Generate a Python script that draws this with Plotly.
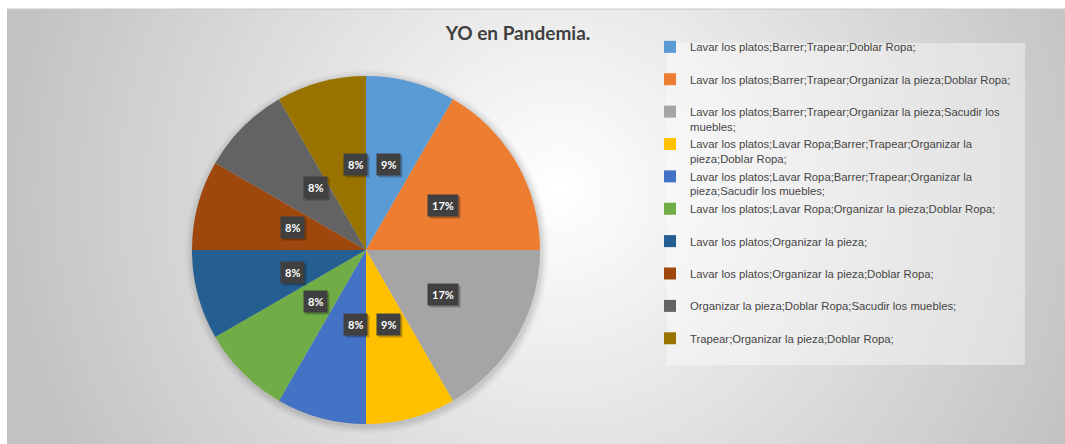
import math
import plotly.graph_objects as go

# ---------------- data ----------------
categories = [
    "Lavar los platos;Barrer;Trapear;Doblar Ropa;",
    "Lavar los platos;Barrer;Trapear;Organizar la pieza;Doblar Ropa;",
    "Lavar los platos;Barrer;Trapear;Organizar la pieza;Sacudir los muebles;",
    "Lavar los platos;Lavar Ropa;Barrer;Trapear;Organizar la pieza;Doblar Ropa;",
    "Lavar los platos;Lavar Ropa;Barrer;Trapear;Organizar la pieza;Sacudir los muebles;",
    "Lavar los platos;Lavar Ropa;Organizar la pieza;Doblar Ropa;",
    "Lavar los platos;Organizar la pieza;",
    "Lavar los platos;Organizar la pieza;Doblar Ropa;",
    "Organizar la pieza;Doblar Ropa;Sacudir los muebles;",
    "Trapear;Organizar la pieza;Doblar Ropa;",
]
# legend text as wrapped in the reference
legend_text = [
    "Lavar los platos;Barrer;Trapear;Doblar Ropa;<br> ",
    "Lavar los platos;Barrer;Trapear;Organizar la pieza;Doblar Ropa;<br> ",
    "Lavar los platos;Barrer;Trapear;Organizar la pieza;Sacudir los<br>muebles;",
    "Lavar los platos;Lavar Ropa;Barrer;Trapear;Organizar la<br>pieza;Doblar Ropa;",
    "Lavar los platos;Lavar Ropa;Barrer;Trapear;Organizar la<br>pieza;Sacudir los muebles;",
    "Lavar los platos;Lavar Ropa;Organizar la pieza;Doblar Ropa;<br> ",
    "Lavar los platos;Organizar la pieza;<br> ",
    "Lavar los platos;Organizar la pieza;Doblar Ropa;<br> ",
    "Organizar la pieza;Doblar Ropa;Sacudir los muebles;<br> ",
    "Trapear;Organizar la pieza;Doblar Ropa;<br> ",
]
counts = [1, 2, 2, 1, 1, 1, 1, 1, 1, 1]
pct_labels = ["9%", "17%", "17%", "9%", "8%", "8%", "8%", "8%", "8%", "8%"]
colors = ["#5B9BD5", "#ED7D31", "#A5A5A5", "#FFC000", "#4472C4",
          "#70AD47", "#255E91", "#9E480E", "#636363", "#997300"]

# ---------------- layout helpers ----------------
W, H = 1065, 444


def px(x):
    return x / W


def py(y):
    return 1 - y / H


CX, CY, R = 366, 250, 174          # pie centre / radius in pixels
LABEL_R = 0.51 * R

shapes = []
# base of chart area
shapes.append(dict(type="rect", xref="paper", yref="paper", layer="below",
                   x0=px(7), x1=px(W + 5), y0=py(H + 5), y1=py(9),
                   fillcolor="#c2c2c2", line=dict(width=0)))
# radial gradient (stepped)
GX, GY, GR, N = 560, 190, 560, 70
for k in range(N, 0, -1):
    r = GR * k / N
    c = int(round(255 - 61 * (k - 0.5) / N))
    shapes.append(dict(type="circle", xref="paper", yref="paper", layer="below",
                       x0=px(GX - r), x1=px(GX + r), y0=py(GY + r), y1=py(GY - r),
                       fillcolor=f"rgb({c},{c},{c})", line=dict(width=0)))
# white page strips outside chart area
shapes.append(dict(type="rect", xref="paper", yref="paper", layer="below",
                   x0=px(-5), x1=px(7), y0=py(H + 5), y1=py(-5),
                   fillcolor="white", line=dict(width=0)))
shapes.append(dict(type="rect", xref="paper", yref="paper", layer="below",
                   x0=px(-5), x1=px(W + 5), y0=py(9), y1=py(-5),
                   fillcolor="white", line=dict(width=0)))
shapes.append(dict(type="line", xref="paper", yref="paper", layer="below",
                   x0=px(7), x1=px(W + 5), y0=py(9), y1=py(9),
                   line=dict(color="#c8c8c8", width=1)))
# soft shadow around the pie
for i, a in enumerate([0.05, 0.04, 0.03, 0.02]):
    rr = R + 2 + 2 * i
    shapes.append(dict(type="circle", xref="paper", yref="paper", layer="below",
                       x0=px(CX - rr + 1), x1=px(CX + rr + 1),
                       y0=py(CY + rr + 2), y1=py(CY - rr + 2),
                       fillcolor=f"rgba(0,0,0,{a})", line=dict(width=0)))
# legend box
shapes.append(dict(type="rect", xref="paper", yref="paper", layer="below",
                   x0=px(667), x1=px(1025), y0=py(365), y1=py(43),
                   fillcolor="rgba(255,255,255,0.4)", line=dict(width=0)))

fig = go.Figure()
fig.add_trace(go.Pie(
    labels=legend_text,
    values=counts,
    customdata=categories,
    hovertemplate="%{customdata}<br>%{value} (%{percent})<extra></extra>",
    sort=False,
    direction="clockwise",
    rotation=0,
    textinfo="none",
    marker=dict(colors=colors, line=dict(width=0)),
    domain=dict(x=[px(CX - R), px(CX + R)], y=[py(CY + R), py(CY - R)]),
))

# data labels (dark boxes) positioned from the slice angles
annotations = []
total = sum(counts)
cum = 0
for v, lab in zip(counts, pct_labels):
    theta = 2 * math.pi * (cum + v / 2) / total
    cum += v
    lx = CX + LABEL_R * math.sin(theta)
    ly = CY - LABEL_R * math.cos(theta)
    annotations.append(dict(x=px(lx), y=py(ly), xref="paper", yref="paper",
                            text=f"<b>{lab}</b>", showarrow=False,
                            xshift=2, yshift=-2,
                            font=dict(family="Lato", size=11, color="rgba(0,0,0,0)"),
                            bgcolor="rgba(0,0,0,0.25)", borderpad=4))
    annotations.append(dict(x=px(lx), y=py(ly), xref="paper", yref="paper",
                            text=f"<b>{lab}</b>", showarrow=False,
                            font=dict(family="Lato", size=11, color="white"),
                            bgcolor="#404040", borderpad=4))

fig.update_layout(
    width=W, height=H,
    margin=dict(l=0, r=0, t=0, b=0),
    paper_bgcolor="white",
    plot_bgcolor="white",
    shapes=shapes,
    annotations=annotations,
    title=dict(text="<b>YO en Pandemia.</b>", x=px(518), xanchor="center",
               y=py(33), yanchor="middle",
               font=dict(family="Lato", size=19, color="#404040")),
    legend=dict(x=px(650), y=py(33), xanchor="left", yanchor="top",
                bgcolor="rgba(0,0,0,0)", valign="top",
                font=dict(family="Liberation Sans", size=11.3, color="#454545")),
)

fig.write_html("out.html", config={"displayModeBar": False},
               post_script="document.body.style.margin='0';")
